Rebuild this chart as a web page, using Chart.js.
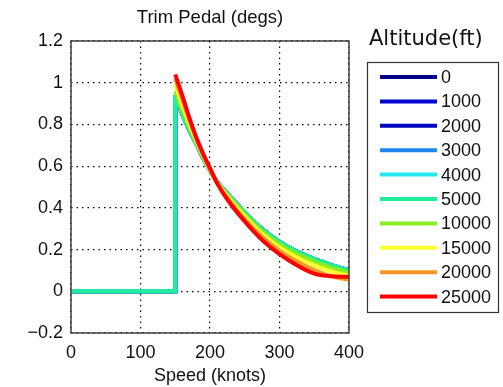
<!DOCTYPE html>
<html>
<head>
<meta charset="utf-8">
<script src="https://cdn.jsdelivr.net/npm/chart.js@4"></script>
<style>
html,body{margin:0;padding:0;background:#fff;}
#wrap{width:503px;height:387px;position:relative;}
</style>
</head>
<body>
<div id="wrap"><canvas id="c" width="503" height="387"></canvas></div>
<script>
const speeds = [0, 150, 150, 160, 170, 180, 190, 200, 210, 225, 250, 275, 300, 325, 350, 375, 400];
const altitudes = ['0','1000','2000','3000','4000','5000','10000','15000','20000','25000'];
const alt0     = [0, 0, 0.93, 0.85, 0.775, 0.71, 0.64, 0.58, 0.525, 0.468, 0.378, 0.298, 0.237, 0.19, 0.155, 0.125, 0.10];
const alt1000  = [0, 0, 0.93, 0.85, 0.775, 0.71, 0.64, 0.58, 0.525, 0.468, 0.378, 0.298, 0.237, 0.19, 0.155, 0.125, 0.10];
const alt2000  = [0, 0, 0.93, 0.85, 0.775, 0.71, 0.64, 0.58, 0.525, 0.468, 0.378, 0.298, 0.237, 0.19, 0.155, 0.125, 0.10];
const alt3000  = [0, 0, 0.93, 0.85, 0.775, 0.71, 0.64, 0.58, 0.525, 0.468, 0.378, 0.298, 0.237, 0.19, 0.155, 0.125, 0.10];
const alt4000  = [0, 0, 0.93, 0.85, 0.775, 0.71, 0.64, 0.58, 0.525, 0.468, 0.378, 0.298, 0.237, 0.19, 0.155, 0.125, 0.10];
const alt5000  = [0, 0, 0.93, 0.85, 0.775, 0.71, 0.64, 0.58, 0.525, 0.468, 0.378, 0.298, 0.237, 0.19, 0.155, 0.125, 0.10];
const alt10000 = [null, null, 0.96, 0.87, 0.79, 0.715, 0.645, 0.58, 0.523, 0.462, 0.37, 0.288, 0.225, 0.178, 0.142, 0.112, 0.09];
const alt15000 = [null, null, 0.99, 0.895, 0.805, 0.725, 0.65, 0.582, 0.521, 0.455, 0.358, 0.275, 0.21, 0.162, 0.124, 0.094, 0.075];
const alt20000 = [null, null, 1.02, 0.92, 0.825, 0.735, 0.655, 0.585, 0.52, 0.447, 0.345, 0.261, 0.194, 0.143, 0.102, 0.072, 0.055];
const alt25000 = [null, null, 1.04, 0.94, 0.835, 0.74, 0.66, 0.59, 0.52, 0.44, 0.335, 0.246, 0.178, 0.125, 0.085, 0.072, 0.07];
const yTicks = [-0.2, 0, 0.2, 0.4, 0.6, 0.8, 1, 1.2];
const xTicks = [0, 100, 200, 300, 400];
const colors = ['#00008c','#0000d2','#0000c0','#1e88f0','#22e8f0','#22ee9a','#88ee22','#ffff30','#f59828','#ff0000'];
const series = [alt0, alt1000, alt2000, alt3000, alt4000, alt5000, alt10000, alt15000, alt20000, alt25000];

const datasets = series.map((vals, i) => ({
  label: altitudes[i],
  data: vals.map((v, k) => ({x: speeds[k], y: v})),
  borderColor: colors[i],
  backgroundColor: colors[i],
  borderWidth: 4,
  pointRadius: 0,
  cubicInterpolationMode: 'monotone',
  spanGaps: false,
  fill: false,
  order: series.length - 1 - i
}));

const boxPlugin = {
  id: 'boxPlugin',
  afterDatasetsDraw(chart) {
    const {ctx, chartArea: a} = chart;
    ctx.save();
    ctx.strokeStyle = '#404040';
    ctx.lineWidth = 1.5;
    ctx.strokeRect(a.left, a.top, a.right - a.left, a.bottom - a.top);
    ctx.restore();
  },
  afterDraw(chart) {
    const ctx = chart.ctx;
    ctx.save();
    ctx.fillStyle = '#111';
    ctx.font = '21px "DejaVu Sans"';
    ctx.textBaseline = 'alphabetic';
    ctx.textAlign = 'left';
    ctx.fillText('Altitude(ft)', 369, 45);
    ctx.strokeStyle = '#333';
    ctx.lineWidth = 1.2;
    ctx.strokeRect(367.5, 62.5, 131, 250);
    ctx.font = '18px "Liberation Sans", Arial';
    ctx.textBaseline = 'middle';
    chart.data.datasets.forEach((ds, i) => {
      const y = 77 + i * 24.4;
      ctx.strokeStyle = ds.borderColor;
      ctx.lineWidth = 4;
      ctx.beginPath();
      ctx.moveTo(380, y);
      ctx.lineTo(437, y);
      ctx.stroke();
      ctx.fillStyle = '#111';
      ctx.fillText(ds.label, 441, y + 1);
    });
    ctx.restore();
  }
};

new Chart(document.getElementById('c'), {
  type: 'line',
  data: { datasets },
  options: {
    responsive: false,
    animation: false,
    devicePixelRatio: 1,
    layout: { padding: { left: 0, right: 154, top: 0, bottom: 0 } },
    plugins: {
      legend: { display: false },
      tooltip: { enabled: false },
      title: {
        display: true,
        text: 'Trim Pedal (degs)',
        fullSize: false,
        color: '#111',
        font: { family: '"Liberation Sans", Arial', size: 18.5, weight: 'normal' },
        padding: { top: 7, bottom: 11.8 }
      }
    },
    scales: {
      x: {
        type: 'linear',
        min: 0, max: 400,
        afterBuildTicks(scale) { scale.ticks = xTicks.map(v => ({value: v})); },
        afterFit(scale) { scale.height = 54; },
        ticks: {
          color: '#111',
          font: { family: '"Liberation Sans", Arial', size: 18 },
          padding: 9,
          maxRotation: 0
        },
        grid: {
          color: '#000',
          lineWidth: 1.2,
          drawTicks: false,
          tickLength: 0
        },
        border: { display: false, dash: [1.5, 4] },
        title: {
          display: true,
          text: 'Speed (knots)',
          color: '#111',
          font: { family: '"Liberation Sans", Arial', size: 18 },
          padding: { top: 0, bottom: 0 }
        }
      },
      y: {
        type: 'linear',
        min: -0.2, max: 1.2,
        afterBuildTicks(scale) { scale.ticks = yTicks.map(v => ({value: v})); },
        afterFit(scale) { scale.width = 71; },
        ticks: {
          color: '#111',
          font: { family: '"Liberation Sans", Arial', size: 18 },
          padding: 8,
          callback: (v) => {
            const r = Math.round(v * 10) / 10;
            return r < 0 ? '\u2212' + String(-r) : String(r);
          }
        },
        grid: {
          color: '#000',
          lineWidth: 1.2,
          drawTicks: false,
          tickLength: 0
        },
        border: { display: false, dash: [1.5, 4] }
      }
    }
  },
  plugins: [boxPlugin]
});
</script>
</body>
</html>
